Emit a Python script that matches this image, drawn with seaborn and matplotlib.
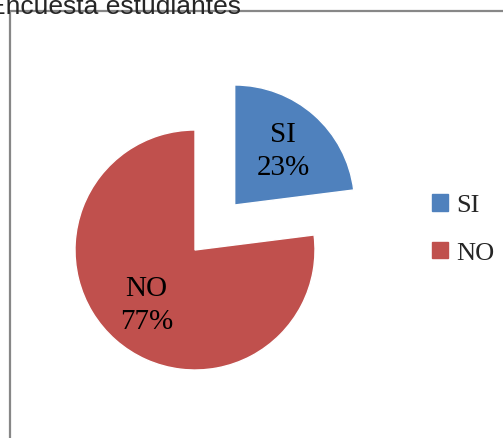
import matplotlib
matplotlib.use('Agg')
import matplotlib.pyplot as plt
import matplotlib.patches as mpatches
import seaborn as sns

# Chart data
categories = ['SI', 'NO']
values = [23, 77]
colors = ['#4F81BD', '#C0504D']
title = 'Encuesta estudiantes'

sns.set_theme(style='white')
plt.rcParams['font.family'] = ['Liberation Serif', 'DejaVu Serif']

W, H = 503, 439
fig = plt.figure(figsize=(W / 100, H / 100), dpi=100)
ax = fig.add_axes([0, 0, 1, 1])

# Pie: SI slice pulled out from the rest
names = iter(categories)
wedges, texts, autotexts = ax.pie(
    values, colors=colors, startangle=90, counterclock=False,
    explode=[0.5, 0], radius=1, pctdistance=0.61,
    autopct=lambda p: f'{next(names)}\n{p:.0f}%',
    textprops={'fontsize': 21, 'color': 'black'},
)
for t in autotexts:
    t.set_linespacing(1.35)

# place pie like in the original picture (center ~ (195, 251) px, r ~ 120 px)
cx, cy, r = 195, 251, 120
ax.set_xlim(-cx / r, (W - cx) / r)
ax.set_ylim(-(H - cy) / r, cy / r)
ax.set_aspect('auto')
ax.axis('off')

# chart border (cut by the image edges)
fig.patches.append(mpatches.Rectangle(
    (9.5 / W, -0.1), 1.2, (H - 11.5) / H + 0.1, transform=fig.transFigure,
    fill=False, edgecolor='#878787', linewidth=1.6))

# clipped title at the top
fig.text(-12 / W, (H - 13.5) / H, title, family='Liberation Sans',
         fontsize=19, va='baseline', ha='left')

# legend
handles = [mpatches.Patch(color=c, label=n) for c, n in zip(colors, categories)]
fig.legend(handles=handles, loc='center left',
           bbox_to_anchor=(432 / W, (H - 230) / H), frameon=False,
           fontsize=19, handlelength=0.6, handleheight=0.6,
           handletextpad=0.3, labelspacing=0.95, borderpad=0,
           borderaxespad=0)

fig.savefig('out.png', dpi=100)
